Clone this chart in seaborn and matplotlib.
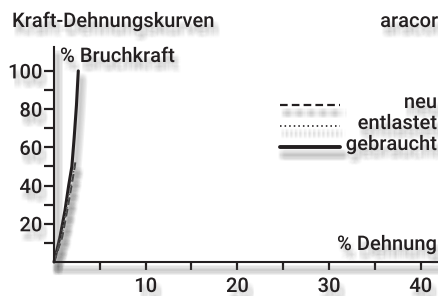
import matplotlib
matplotlib.use("Agg")
import numpy as np
import pandas as pd
import matplotlib.pyplot as plt
import seaborn as sns
from matplotlib import patheffects as pe

# Kraft-Dehnungskurven
dehnung_gebraucht = [0, 0.65, 1.2, 1.6, 1.95, 2.2, 2.45, 2.65]
kraft_gebraucht = [0, 13, 27, 40, 50, 65, 82, 100]
dehnung_neu = [0, 0.9, 1.45, 1.85, 2.2, 2.35]
kraft_neu = [0, 13, 27, 38, 48, 53]
dehnung_entlastet = [0, 0.8, 1.35, 1.75, 2.1, 2.25]
kraft_entlastet = [0, 13, 27, 38, 47, 50]

x_major = [10, 20, 30, 40]
x_minor = [5, 15, 25, 35]
y_major = [20, 40, 60, 80, 100]
y_minor = [10, 30, 50, 70, 90]

legend_labels = ["neu", "entlastet", "gebraucht"]

sns.set_style("ticks")
plt.rcParams["font.family"] = ["Roboto", "DejaVu Sans"]
plt.rcParams["font.weight"] = "medium"
plt.rcParams["lines.scale_dashes"] = False
ink = "#231f20"

# soft blurred drop shadow, built from many faint offset copies
offsets = [(2.5 + dx, -5.5 + dy) for dx in (-2, -1, 0, 1, 2) for dy in (-2, -1, 0, 1, 2)]
text_fx = [pe.SimplePatchShadow(offset=o, shadow_rgbFace="0.5", alpha=0.018) for o in offsets] + [pe.Normal()]


def line_fx(lw):
    fx = [pe.SimpleLineShadow(offset=o, shadow_color="0.5", alpha=0.018, linewidth=lw + 2) for o in offsets]
    return fx + [pe.Normal()]


fig = plt.figure(figsize=(4.39, 2.96), dpi=100)
ax = fig.add_axes([54 / 439, 1 - 262 / 296, 1 - 54 / 439, (262 - 47) / 296])

styles = {
    "neu": dict(ls=(0, (5.5, 3)), lw=1.4, color="0.25"),
    "entlastet": dict(ls=(0, (1.1, 2.2)), lw=1.4, color="0.35"),
    "gebraucht": dict(ls="-", lw=2.2, color=ink),
}

curves = {
    "gebraucht": (dehnung_gebraucht, kraft_gebraucht),
    "neu": (dehnung_neu, kraft_neu),
    "entlastet": (dehnung_entlastet, kraft_entlastet),
}

for name in ["gebraucht", "neu", "entlastet"]:
    xs, ys = curves[name]
    st = styles[name]
    sns.lineplot(x=xs, y=ys, sort=False, ax=ax, color=st["color"], linewidth=st["lw"],
                 linestyle=st["ls"], path_effects=line_fx(st["lw"]), clip_on=False)

ax.set_xlim(0, 42)
ax.set_ylim(0, 112.5)
ax.set_xticks(x_major)
ax.set_xticks(x_minor, minor=True)
ax.set_yticks(y_major)
ax.set_yticks(y_minor, minor=True)
ax.tick_params(axis="x", which="both", direction="out", length=5.8, width=1.6, color=ink,
               labelsize=14.5, labelcolor=ink, pad=5)
ax.tick_params(axis="y", which="both", direction="out", length=7, width=1.6, color=ink,
               labelsize=14.5, labelcolor=ink, pad=1.5)
for lab in ax.get_xticklabels() + ax.get_yticklabels():
    lab.set_path_effects(text_fx)
sns.despine(ax=ax)
for s in ["left", "bottom"]:
    ax.spines[s].set_linewidth(1.5)
    ax.spines[s].set_color(ink)
    ax.spines[s].set_path_effects(line_fx(1.5))
ax.set_xlabel("")
ax.set_ylabel("")
ax.patch.set_alpha(0)

# texts
W, H = 439, 296


def ftext(x, y, s, ha="left"):
    fig.text(x / W, 1 - y / H, s, ha=ha, va="baseline", fontsize=14.5, color=ink, path_effects=text_fx)


ftext(12, 27, "Kraft-Dehnungskurven")
ftext(438, 27, "aracor", ha="right")
ftext(60, 62, "% Bruchkraft")
ftext(437, 250, "% Dehnung", ha="right")

# legend (right-aligned labels, keys to the left)
legend_base = [108, 129, 150]
for name, yb in zip(legend_labels, legend_base):
    st = styles[name]
    yl = 1 - (yb - 3) / H
    key_lw = {"neu": 1.6, "entlastet": 1.2, "gebraucht": 2.8}[name]
    fig.add_artist(plt.Line2D([280 / W, 340 / W], [yl, yl], color=ink, linewidth=key_lw,
                              linestyle=st["ls"], path_effects=line_fx(key_lw)))
    ftext(437, yb, name, ha="right")

fig.savefig("out.png", dpi=100)
